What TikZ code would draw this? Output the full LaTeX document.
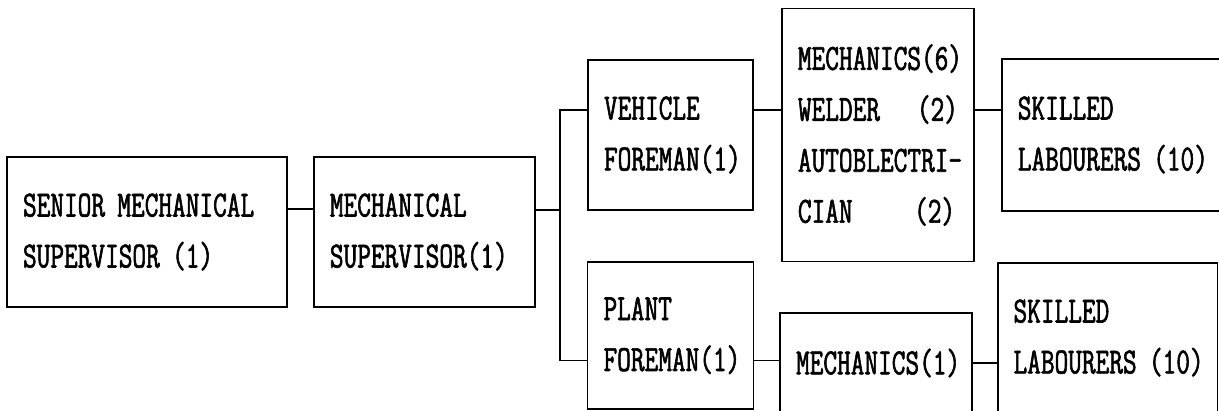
\documentclass[tikz,border=0pt]{standalone}
\usepackage{fontspec}
\newfontfamily\typew[FakeStretch=0.72,FakeBold=1.6]{Latin Modern Mono}
\usetikzlibrary{positioning}

\begin{document}
\begin{tikzpicture}[x=0.02cm,y=-0.02cm,
  box/.style={draw,line width=1.1pt,inner xsep=0.32cm,inner ysep=0pt,align=left,
    font={\typew\fontsize{21}{29}\selectfont}},
  link/.style={line width=0.7pt},
  node distance=0.5cm]
\clip (0,0) rectangle (1219,411);

\node[box,text width=4.96cm,minimum height=3.0cm] (sms) at (147,232)
  {SENIOR~MECHANICAL\\SUPERVISOR~(1)};
\node[box,right=of sms,text width=3.78cm,minimum height=3.0cm] (ms)
  {MECHANICAL\\SUPERVISOR(1)};

\node[box,text width=2.66cm,minimum height=3.0cm] (vf) at (670.5,135)
  {VEHICLE\\FOREMAN(1)};
\node[box,text width=2.68cm,minimum height=2.94cm] (pf) at (670.5,335.5)
  {PLANT\\FOREMAN(1)};

\node[box,right=0.54cm of vf,text width=3.2cm,minimum height=5.06cm] (mech)
  {MECHANICS(6)\\WELDER~~~(2)\\\mbox{AUTOBLECTRI-}\\CIAN~~~~~(2)};
\node[box,right=0.52cm of mech,text width=3.76cm,minimum height=3.04cm] (sk1)
  {SKILLED\\LABOURERS~(10)};

\node[box,text width=3.2cm,minimum height=2.0cm] (mechp) at (876,363)
  {MECHANICS(1)};
\node[box,text width=3.76cm,minimum height=3.0cm] (sk2) at (1107.5,338)
  {SKILLED\\LABOURERS~(10)};

\coordinate (bus) at (560,210);

\draw[link] ([yshift=0.46cm]sms.east) -- ([yshift=0.46cm]sms.east -| ms.west);
\draw[link] (ms.east |- bus) -- (bus);
\draw[link] ([yshift=0.5cm]vf.west) -| (bus) |- ([yshift=-0.5cm]pf.west);
\foreach \a/\b in {vf/mech,mech/sk1}
  {\draw[link] ([yshift=0.5cm]\a.east) -- ([yshift=0.5cm]\a.east -| \b.west);}
\draw[link] ([yshift=-0.5cm]pf.east) -- ([yshift=-0.5cm]pf.east -| mechp.west);
\draw[link] (mechp.east) -- (mechp.east -| sk2.west);
\end{tikzpicture}
\end{document}
